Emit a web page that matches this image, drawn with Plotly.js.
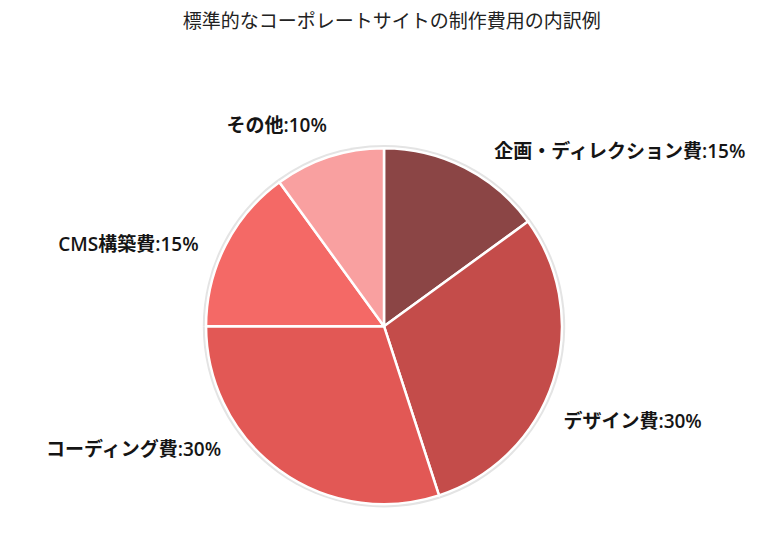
<!DOCTYPE html>
<html>
<head>
<meta charset="utf-8">
<script src="https://cdn.plot.ly/plotly-3.0.1.min.js"></script>
<style>
  html, body { margin: 0; padding: 0; background: #fff; }
  #chart { width: 768px; height: 545px; }
</style>
</head>
<body>
<div id="chart"></div>
<script>
var labels = ['企画・ディレクション費', 'デザイン費', 'コーディング費', 'CMS構築費', 'その他'];
var shares = [15, 30, 30, 15, 10];
var colors = ['#8b4545', '#c44c4a', '#e25855', '#f46966', '#f9a0a0'];

var labelFont = { size: 19, color: '#151515', family: 'Open Sans, Noto Sans CJK JP', weight: 600 };
// small angular nudge (degrees) per outside label, to spread them like the original
var labelNudge = [5, 10, 17, -3, 3];

var pieX = [0.268, 0.732], pieY = [0.075, 0.728];

// soft grey rim behind the pie
var rim = {
  type: 'pie',
  labels: labels,
  values: shares,
  sort: false,
  direction: 'clockwise',
  marker: { colors: labels.map(function () { return '#e4e4e4'; }), line: { width: 0 } },
  textinfo: 'none',
  hoverinfo: 'skip',
  showlegend: false,
  domain: { x: [0.2635, 0.7365], y: [0.069, 0.734] }
};

var pie = {
  type: 'pie',
  labels: labels,
  values: shares,
  sort: false,
  direction: 'clockwise',
  rotation: 0,
  marker: { colors: colors, line: { color: '#ffffff', width: 2.5 } },
  textinfo: 'none',
  hovertemplate: '%{label}: %{value}%<extra></extra>',
  showlegend: false,
  domain: { x: pieX, y: pieY }
};

// transparent, slightly larger pies that only carry the outside labels
var tags = labels.map(function (name, i) {
  return {
    type: 'pie',
    labels: labels,
    values: shares,
    sort: false,
    direction: 'clockwise',
    rotation: labelNudge[i],
    marker: { colors: labels.map(function () { return 'rgba(0,0,0,0)'; }), line: { width: 0 } },
    texttemplate: labels.map(function (l, j) { return j === i ? '%{label}:%{value}%' : ''; }),
    textposition: 'outside',
    outsidetextfont: labelFont,
    hoverinfo: 'skip',
    showlegend: false,
    domain: { x: [0.245, 0.755], y: [0.042, 0.761] }
  };
});

var layout = {
  width: 768,
  height: 545,
  margin: { l: 0, r: 0, t: 0, b: 0 },
  paper_bgcolor: '#ffffff',
  title: {
    text: '標準的なコーポレートサイトの制作費用の内訳例',
    x: 0.51,
    y: 0.96,
    xanchor: 'center',
    yanchor: 'middle',
    font: { size: 19, color: '#222222', family: 'Noto Sans CJK JP' }
  }
};

Plotly.newPlot('chart', [rim, pie].concat(tags), layout, { displayModeBar: false });
</script>
</body>
</html>
